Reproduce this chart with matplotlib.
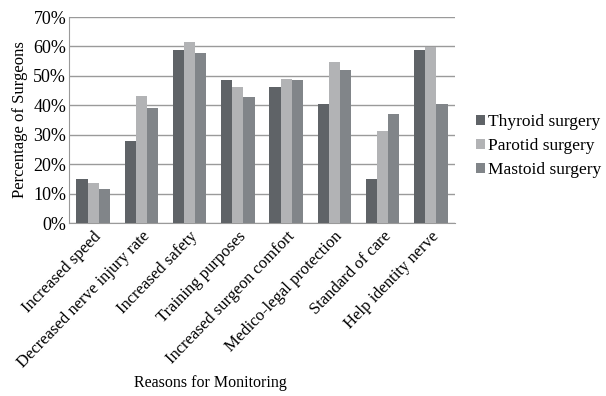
import matplotlib
matplotlib.use("Agg")
import matplotlib.pyplot as plt
import numpy as np

categories = ["Increased speed", "Decreased nerve injury rate", "Increased safety",
              "Training purposes", "Increased surgeon comfort", "Medico-legal protection",
              "Standard of care", "Help identity nerve"]
thyroid = [15.0, 28.0, 58.7, 48.5, 46.1, 40.6, 15.0, 58.7]
parotid = [13.5, 43.3, 61.4, 46.3, 49.0, 54.6, 31.2, 59.9]
mastoid = [11.4, 39.1, 57.9, 42.9, 48.5, 51.9, 37.0, 40.4]
series_names = ["Thyroid surgery", "Parotid surgery", "Mastoid surgery"]
yticks = [0, 10, 20, 30, 40, 50, 60, 70]

plt.rcParams['font.family'] = ['Liberation Serif', 'DejaVu Serif']

fig = plt.figure(figsize=(6.06, 3.96), dpi=100)
ax = fig.add_axes([69/606, 1-223/396, (455-69)/606, (223-17)/396])

colors = ["#5f6367", "#b2b3b5", "#818589"]
x = np.arange(len(categories))
w = 0.23
for i, (vals, name, c) in enumerate(zip([thyroid, parotid, mastoid], series_names, colors)):
    ax.bar(x + (i - 1) * w, vals, w, color=c, label=name, zorder=3)

ax.set_xlim(-0.5, len(categories) - 0.5)
ax.set_ylim(0, 70)
ax.set_yticks(yticks)
ax.set_yticklabels([f"{v}%" for v in yticks], fontsize=13)
ax.yaxis.grid(True, color="#9a9a9a", linewidth=1, zorder=0)
ax.set_axisbelow(True)
ax.set_xticks(x)
ax.set_xticklabels(categories, rotation=46, ha="right", rotation_mode="anchor", fontsize=12)
ax.tick_params(axis='x', length=0, pad=4)
ax.tick_params(axis='y', length=0, pad=2)
for s in ["top", "right"]:
    ax.spines[s].set_visible(False)
ax.spines["left"].set_color("#9a9a9a")
ax.spines["bottom"].set_color("#9a9a9a")
ax.set_ylabel("Percentage of Surgeons", fontsize=12, labelpad=4)
fig.text(210/606, 1-383/396, "Reasons for Monitoring", ha="center", va="center", fontsize=11.5)

leg = fig.legend(loc="center left", bbox_to_anchor=(476/606, 1-146/396), frameon=False, fontsize=12.5,
                 handlelength=0.5, handleheight=0.5, handletextpad=0.2, labelspacing=0.45,
                 borderaxespad=0, borderpad=0)

fig.savefig("out.png", dpi=100)
